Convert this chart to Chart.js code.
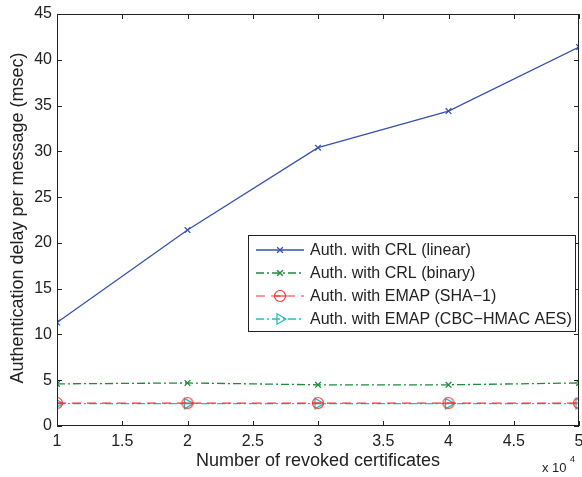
<!DOCTYPE html>
<html>
<head>
<meta charset="utf-8">
<script src="https://cdn.jsdelivr.net/npm/chart.js@4/dist/chart.umd.min.js"></script>
<style>
  html, body { margin:0; padding:0; background:#fff; }
  #wrap { width:582px; height:477px; position:relative; }
</style>
</head>
<body>
<div id="wrap"><canvas id="c"></canvas></div>
<script>
// revoked certificates (x 10^4)
const revoked = [1, 2, 3, 4, 5];
const crlLinear = [11.3, 21.4, 30.4, 34.4, 41.4];
const crlBinary = [4.6, 4.7, 4.5, 4.5, 4.7];
const emapSha1 = [2.5, 2.5, 2.5, 2.5, 2.5];
const emapCbc = [2.45, 2.45, 2.45, 2.45, 2.45];
const seriesNames = ['Auth. with CRL (linear)', 'Auth. with CRL (binary)', 'Auth. with EMAP (SHA\u22121)', 'Auth. with EMAP (CBC\u2212HMAC AES)'];
const xTicks = [1, 1.5, 2, 2.5, 3, 3.5, 4, 4.5, 5];
const yTicks = [0, 5, 10, 15, 20, 25, 30, 35, 40, 45];

const FONT = '"Liberation Sans", Arial, sans-serif';

// circle with a bar through it
function thetaMarker(color) {
  const c = document.createElement('canvas');
  c.width = 14; c.height = 14;
  const g = c.getContext('2d');
  g.strokeStyle = color; g.lineWidth = 1.2;
  g.beginPath(); g.arc(7, 7, 5.5, 0, Math.PI*2); g.stroke();
  g.beginPath(); g.moveTo(1.5, 7); g.lineTo(12.5, 7); g.stroke();
  return c;
}

const pts = arr => arr.map((v, i) => ({x: revoked[i], y: v}));

const datasets = [
  { label: seriesNames[0], data: pts(crlLinear), borderColor:'#3552ad', borderWidth:1.3,
    pointStyle:'crossRot', pointRadius:4, pointBorderColor:'#3552ad', pointBorderWidth:1.3 },
  { label: seriesNames[1], data: pts(crlBinary), borderColor:'#1f8a3c', borderWidth:1.3, borderDash:[8,3,2,3],
    pointStyle:'crossRot', pointRadius:4, pointBorderColor:'#1f8a3c', pointBorderWidth:1.3 },
  { label: seriesNames[2], data: pts(emapSha1), borderColor:'#ff3333', borderWidth:1.2, borderDash:[9,6],
    pointStyle: thetaMarker('#ff3333'), pointRadius:6 },
  { label: seriesNames[3], data: pts(emapCbc), borderColor:'#22bfc2', borderWidth:1.3, borderDash:[8,3,2,3],
    pointStyle:'triangle', pointRotation:90, pointRadius:6, pointBorderColor:'#22bfc2', pointBorderWidth:1.3,
    pointBackgroundColor:'rgba(0,0,0,0)' }
];

const matlabFrame = {
  id: 'matlabFrame',
  afterDraw(chart) {
    const {ctx, chartArea: a, scales: {x, y}} = chart;
    ctx.save();
    ctx.strokeStyle = '#222'; ctx.lineWidth = 1;
    ctx.strokeRect(a.left + 0.5, a.top + 0.5, a.right - a.left - 1, a.bottom - a.top - 1);
    ctx.beginPath();
    xTicks.forEach(t => {
      const px = Math.round(x.getPixelForValue(t)) + 0.5;
      ctx.moveTo(px, a.bottom); ctx.lineTo(px, a.bottom - 5);
      ctx.moveTo(px, a.top); ctx.lineTo(px, a.top + 5);
    });
    yTicks.forEach(t => {
      const py = Math.round(y.getPixelForValue(t)) + 0.5;
      ctx.moveTo(a.left, py); ctx.lineTo(a.left + 5, py);
      ctx.moveTo(a.right, py); ctx.lineTo(a.right - 5, py);
    });
    ctx.stroke();

    // axis titles
    ctx.fillStyle = '#222';
    ctx.font = '18px ' + FONT;
    ctx.textAlign = 'center'; ctx.textBaseline = 'middle';
    ctx.fillText('Number of revoked certificates', (a.left + a.right) / 2, 461);
    ctx.save();
    ctx.translate(18, 218);
    ctx.rotate(-Math.PI / 2);
    ctx.fillText('Authentication delay per message (msec)', 0, 0);
    ctx.restore();
    ctx.font = '13px ' + FONT;
    ctx.textAlign = 'left';
    ctx.fillText('x 10', 542, 468);
    ctx.font = '9px ' + FONT;
    ctx.fillText('4', 570, 460);

    // legend box
    const lx = 248, ly = 235, lw = 327, lh = 96;
    ctx.fillStyle = '#fff';
    ctx.fillRect(lx, ly, lw, lh);
    ctx.strokeStyle = '#222';
    ctx.strokeRect(lx + 0.5, ly + 0.5, lw, lh);
    ctx.font = '16px ' + FONT;
    ctx.textBaseline = 'middle';
    chart.data.datasets.forEach((ds, i) => {
      const yy = ly + 15 + i * 23;
      ctx.save();
      ctx.strokeStyle = ds.borderColor; ctx.lineWidth = ds.borderWidth;
      ctx.setLineDash(ds.borderDash || []);
      ctx.beginPath(); ctx.moveTo(lx + 8, yy); ctx.lineTo(lx + 56, yy); ctx.stroke();
      ctx.restore();
      ctx.save();
      ctx.strokeStyle = ds.pointBorderColor || ds.borderColor;
      ctx.fillStyle = 'rgba(0,0,0,0)';
      ctx.lineWidth = ds.pointBorderWidth || 1.2;
      Chart.helpers.drawPoint(ctx, {pointStyle: ds.pointStyle, rotation: ds.pointRotation || 0,
        radius: ds.pointRadius, borderWidth: ds.pointBorderWidth || 1.2}, lx + 32, yy);
      ctx.restore();
      ctx.fillStyle = '#222';
      ctx.fillText(ds.label, lx + 62, yy + 1);
    });
    ctx.restore();
  }
};

new Chart(document.getElementById('c'), {
  type: 'line',
  data: { datasets },
  options: {
    responsive: true,
    maintainAspectRatio: false,
    animation: false,
    layout: { autoPadding: false, padding: { top: 14, right: 3, left: 0, bottom: 0 } },
    plugins: { legend: { display: false }, tooltip: { enabled: false } },
    elements: { line: { tension: 0, fill: false } },
    scales: {
      x: {
        type: 'linear', min: 1, max: 5,
        grid: { display: false, drawTicks: false },
        border: { display: false },
        afterFit: s => { s.height = 51; s.paddingLeft = 0; s.paddingRight = 0; },
        afterBuildTicks: s => { s.ticks = xTicks.map(v => ({value: v})); },
        ticks: { padding: 6, color: '#222', font: { family: FONT, size: 16 }, maxRotation: 0,
          callback: v => String(v) }
      },
      y: {
        min: 0, max: 45,
        grid: { display: false, drawTicks: false },
        border: { display: false },
        afterFit: s => { s.width = 57; s.paddingTop = 0; s.paddingBottom = 0; },
        afterBuildTicks: s => { s.ticks = yTicks.map(v => ({value: v})); },
        ticks: { padding: 5, color: '#222', font: { family: FONT, size: 16 } }
      }
    }
  },
  plugins: [matlabFrame]
});
</script>
</body>
</html>
